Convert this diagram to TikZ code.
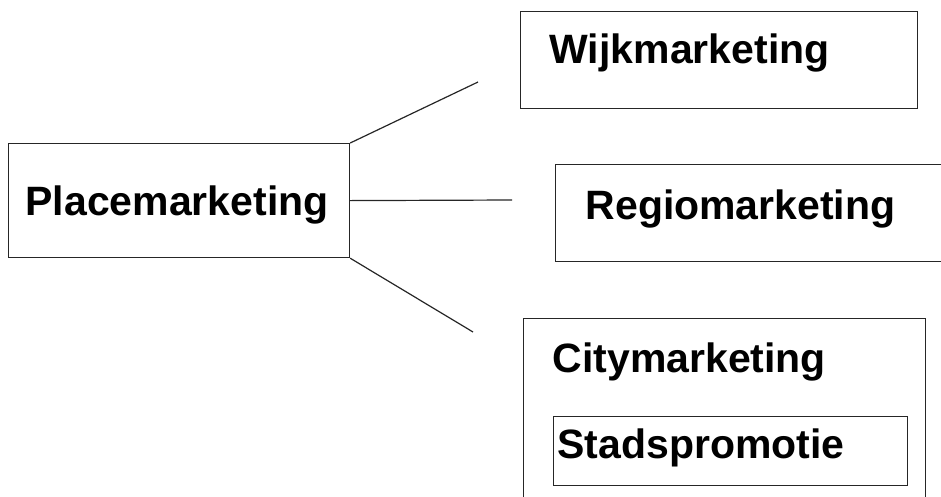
\documentclass[tikz,border=0pt]{standalone}
\usepackage{fontspec}
\setmainfont{Liberation Sans}

\begin{document}
\begin{tikzpicture}[x=1pt,y=-1pt,line width=1.2pt,
    box/.style={draw=black!85,anchor=north west,inner sep=0pt},
    lbl/.style={anchor=base west,inner sep=0pt,font=\fontsize{41}{46}\selectfont\bfseries}]
    \useasboundingbox (0,0) rectangle (941,496);
    \clip (0,0) rectangle (941,496);
    \node[box,minimum width=341pt,minimum height=114pt] (place) at (8,143) {};
    \node[box,minimum width=397pt,minimum height=97pt] (wijk) at (520,11) {};
    \node[box,minimum width=390pt,minimum height=97pt] (regio) at (555,164) {};
    \node[box,minimum width=402pt,minimum height=200pt] (city) at (523,318) {};
    \node[box,minimum width=354pt,minimum height=69pt] (stads) at (553,416) {};
    \node[lbl] (placetxt) at (25,215) {Placemarketing};
    \node[lbl] (wijktxt) at (549,63) {Wijkmarketing};
    \node[lbl] (regiotxt) at (585,219) {Regiomarketing};
    \node[lbl] (citytxt) at (552,372) {Citymarketing};
    \node[lbl] (stadstxt) at (557,458) {Stadspromotie};
    \coordinate (wijkend) at (478,82);
    \coordinate (regioend) at (512,200);
    \coordinate (cityend) at (473,332);
    \draw[black!85]
    (place.north east) -- (wijkend)
    (place.east) -- (regioend)
    (place.south east) -- (cityend)
;
  \end{tikzpicture}
\end{document}
